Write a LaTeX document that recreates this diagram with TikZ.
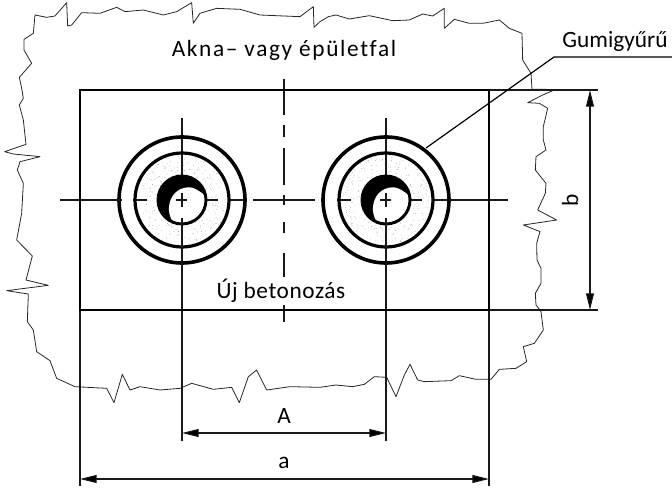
\documentclass[tikz,border=0pt]{standalone}
\usepackage{fontspec}
\setmainfont{Carlito}[Ligatures=NoCommon]
\newfontfamily\akna{Carlito}[LetterSpace=7,Ligatures=NoCommon]
\newfontfamily\beton{Carlito}[LetterSpace=2.5,Ligatures=NoCommon]
\usetikzlibrary{arrows.meta}
\tikzset{
 thinl/.style={line width=0.8pt,black!90},
 thickl/.style={line width=2.1pt,black},
 ringl/.style={line width=2.7pt,black},
 wall/.style={line width=0.6pt,black!85,line join=round},
 tipd/.tip={Triangle[length=12.5pt,width=6pt,fill=black]},
 dimen/.style={thinl,tipd-tipd},
 lab/.style={font=\fontsize{17.5}{19}\selectfont,inner sep=0pt,anchor=base},
 zoomed/.style={x=.25pt,y=-.25pt,wall}
}
\newcommand{\holeset}[1]{%
 \begin{scope}[shift={(#1,200)}]
  \pgfmathsetseed{#1}
  \foreach \i in {1,...,260}{
   \pgfmathsetmacro{\rr}{sqrt(rnd*(1990-650)+650)}
   \pgfmathsetmacro{\aa}{360*rnd}
   \fill[black!40] (\aa:\rr) circle[radius=0.36];
  }
  \draw[thinl] (-49,0)--(-35,0) (-6,0)--(5,0) (25,0)--(36,0) (46,0)--(61,0);
  \draw[thinl] (0,-82)--(0,-13);
  \fill[black] (0,0) circle[radius=24];
  \fill[white] plot[smooth cycle,tension=.7] coordinates {(-10.3,20) (-13,6.7) (-7,-7) (6.3,-12.7) (18,-8.3) (23,-2) (22,10) (15,19) (5,23.5) (-5,23.5)};
  \draw[thinl] (-6,0)--(5,0) (0,-7)--(0,7);
  \draw[line width=2.2pt] (0,0) circle[radius=24];
  \draw[ringl,line width=2.4pt] (0,0) circle[radius=47];
  \draw[ringl] (0,0) circle[radius=63];
 \end{scope}}
\begin{document}
\begin{tikzpicture}[x=.75pt,y=-.75pt]
\useasboundingbox (0,0) rectangle (672,492);
% wall outline
\begin{scope}[zoomed]
\draw (52,510) -- (60,485) -- (120,470) -- (40,462) -- (14,455) -- (78,433) -- (70,360) -- (58,315) -- (70,295) -- (65,265) -- (58,232) -- (95,190) -- (72,150) -- (72,118) -- (100,100) -- (105,45) -- (140,52) -- (165,48) -- (200,8) -- (203,78) -- (215,75) -- (245,38) -- (300,40) -- (350,22) -- (375,35) -- (430,30) -- (490,45) -- (530,35) -- (575,8) -- (580,70) -- (600,40) -- (650,25) -- (720,28) -- (780,45) -- (900,50) -- (940,20) -- (942,82) -- (960,65) -- (985,50) -- (1008,45);
\end{scope}
\begin{scope}[zoomed,shift={(1008,0)}]
\draw (0,45) -- (40,57) -- (100,47) -- (170,62) -- (220,60) -- (260,42) -- (290,48) -- (325,25) -- (325,85) -- (355,58) -- (400,70) -- (440,70) -- (490,60) -- (520,85) -- (558,100) -- (560,180) -- (585,220) -- (588,268) -- (630,268) -- (650,272) -- (620,285) -- (575,308) -- (610,310) -- (635,325) -- (622,380) -- (622,420) -- (630,450) -- (600,470) -- (598,510);
\end{scope}
\begin{scope}[zoomed,shift={(1008,510)}]
\draw (598,0) -- (630,40) -- (628,70) -- (605,120) -- (662,150) -- (562,165) -- (612,185) -- (602,220) -- (603,270) -- (615,295) -- (615,340) -- (598,370) -- (600,405) -- (615,425) -- (622,480) -- (595,520) -- (562,530) -- (572,575) -- (540,595) -- (490,598) -- (465,628) -- (420,628) -- (370,617) -- (345,632) -- (265,635) -- (245,630) -- (222,583) -- (205,615) -- (180,680) -- (152,622) -- (115,620) -- (85,643) -- (50,650) -- (0,645);
\end{scope}
\begin{scope}[zoomed,shift={(0,510)}]
\draw (1008,645) -- (960,652) -- (870,650) -- (800,660) -- (770,600) -- (745,620) -- (718,698) -- (695,652) -- (640,658) -- (575,640) -- (540,655) -- (480,660) -- (420,650) -- (390,660) -- (367,613) -- (342,698) -- (320,655) -- (225,650) -- (170,625) -- (150,572) -- (110,545) -- (100,480) -- (82,455) -- (85,372) -- (20,362) -- (145,346) -- (78,330) -- (97,258) -- (50,210) -- (65,130) -- (70,40) -- (52,0);
\end{scope}
% holes
\holeset{182}
\holeset{386}
% coordinates
\coordinate (tl) at (80,90); \coordinate (tr) at (489,90);
\coordinate (bl) at (80,310); \coordinate (br) at (489,310);
% centre lines
\draw[thinl] (60,200)--(122,200) (253,200)--(315,200) (449,200)--(508,200);
\draw[thinl] (284,79)--(284,115) (284,125)--(284,137) (284,148)--(284,185) (284,195)--(284,205) (284,222)--(284,233) (284,253)--(284,277) (284,305)--(284,322);
\draw[thinl] (182,218)--(182,441) (386,218)--(386,441);
% rectangle and extensions
\draw[thinl] (tr)--(598,90) (br)--(598,310);
\draw[thinl] (bl)--(80,486) (br)--(489,486);
\draw[thickl] (tl) rectangle (br);
% dimensions
\coordinate (bt) at (590,90); \coordinate (bb) at (590,310);
\coordinate (At) at (182,433); \coordinate (Ab) at (386,433);
\coordinate (at) at (80,479); \coordinate (ab) at (489,479);
\draw[dimen] (bt)--(bb);
\draw[dimen] (At)--(Ab);
\draw[dimen] (at)--(ab);
% leader
\coordinate (lead0) at (426,148); \coordinate (lead1) at (554,57); \coordinate (lead2) at (672,57);
\draw[line width=.9pt] (lead0)--(lead1)--(lead2);
% text
\node[lab] (t1) at (284,57) {\akna Akna– vagy épületfal};
\node[lab] (t2) at (281,298) {\beton Új betonozás};
\node[lab] (t3) at (615,48) {Gumigyűrű};
\node[lab] (t4) at (284,423) {A};
\node[lab] (t5) at (284,468) {a};
\node[lab,rotate=90] (t6) at (578,200) {b};
\end{tikzpicture}
\end{document}
